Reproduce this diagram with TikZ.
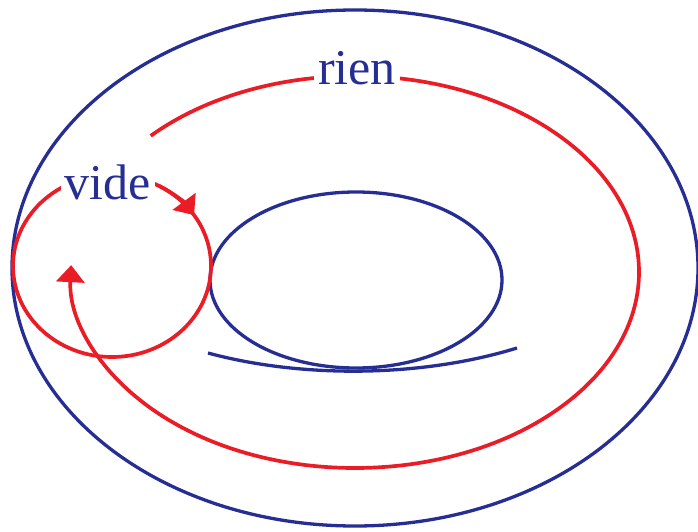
\documentclass[tikz,border=0pt]{standalone}
\usepackage{fontspec}
\setmainfont{Liberation Serif}
\usetikzlibrary{arrows.meta,calc}
\definecolor{dblue}{RGB}{38,46,148}
\definecolor{dred}{RGB}{234,28,38}
\begin{document}
\begin{tikzpicture}[x=1pt,y=1pt,
  blueline/.style={draw=dblue,line width=3.3pt},
  redline/.style={draw=dred,line width=3.7pt},
  tip/.style={-{Triangle[length=17pt,width=28pt]}},
  lbl/.style={text=dblue,font=\fontsize{50}{52}\selectfont,fill=white,inner xsep=4pt,inner ysep=1pt,anchor=base}]
\useasboundingbox (0,0) rectangle (698,531);
% blue shapes
\coordinate (oc) at (355,263);
\coordinate (ic) at (356,251);
\draw[blueline] (oc) ellipse [x radius=343, y radius=258];
\draw[blueline] (ic) ellipse [x radius=146, y radius=88];
\coordinate (bl) at (208,178);
\coordinate (br) at (517,183);
\draw[blueline] (bl) .. controls (300,153) and (420,153) .. (br);
% red circle "vide"
\coordinate (vc) at (112,265);
\draw[redline] (vc) ellipse [x radius=99, y radius=91];
\draw[redline,tip] ($(vc)+(62:99 and 91)$) arc[start angle=62, end angle=34, x radius=99, y radius=91];
% red big arc "rien"
\coordinate (rc) at (355,259);
\draw[redline,tip] ($(rc)+(136:284 and 196)$) arc[start angle=136, end angle=-182, x radius=284, y radius=196];
% labels
\node[lbl] (rien) at (357,446) {rien};
\node[lbl] (vide) at (108,331) {vide};
\end{tikzpicture}
\end{document}
